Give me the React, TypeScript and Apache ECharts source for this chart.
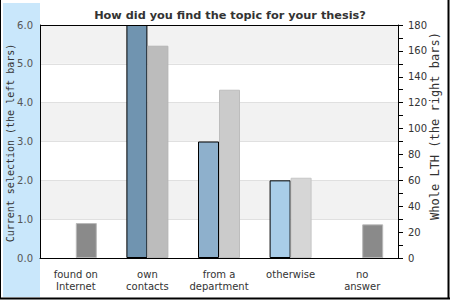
import React, { useEffect, useRef } from "react";
import * as echarts from "echarts";

const categories = ["found on\nInternet", "own\ncontacts", "from a\ndepartment", "otherwise", "no\nanswer"];
const currentSelection: (number | null)[] = [null, 6.0, 3.0, 2.0, null];
const wholeLTH: number[] = [27, 164, 130, 62, 26];
const leftColors = ["#7094b0", "#7094b0", "#8eb0cc", "#a9cde8", "#a9cde8"];
const rightColors = ["#8a8a8a", "#bcbcbc", "#cbcbcb", "#d6d6d6", "#8a8a8a"];
const rightBorders = ["#b8b8b8", "#b4b4b4", "#bdbdbd", "#c6c6c6", "#b8b8b8"];
const title = "How did you find the topic for your thesis?";
const leftName = "Current selection (the left bars)";
const rightName = "Whole LTH (the right bars)";

export default function App() {
  const ref = useRef<HTMLDivElement>(null);
  useEffect(() => {
    document.body.style.margin = "0";
    const chart = echarts.init(ref.current!, null, { renderer: "svg" });
    const font = "DejaVu Sans";
    chart.setOption({
      animation: false,
      backgroundColor: "#ffffff",
      title: {
        text: title,
        left: 225,
        textAlign: "center",
        top: 5,
        textStyle: { fontFamily: font, fontSize: 11.3, fontWeight: "bold", color: "#333" },
      },
      grid: { left: 40, right: 52, top: 25, bottom: 42, containLabel: false },
      xAxis: {
        type: "category",
        data: categories,
        axisLine: { lineStyle: { color: "#000", width: 1 } },
        axisTick: { show: false },
        axisLabel: { fontFamily: font, fontSize: 10, color: "#333", margin: 10, lineHeight: 12, interval: 0 },
      },
      yAxis: [
        {
          type: "value",
          min: 0,
          max: 6,
          interval: 1,
          position: "left",
          axisLine: { show: true, lineStyle: { color: "#000", width: 1 } },
          axisTick: { show: false },
          axisLabel: {
            fontFamily: font,
            fontSize: 10,
            color: "#555",
            margin: 7,
            formatter: (v: number) => v.toFixed(1),
          },
          splitLine: { show: true, lineStyle: { color: "#e0e0e0", width: 1 } },
          splitArea: { show: true, areaStyle: { color: ["#ffffff", "#f2f2f2"] } },
        },
        {
          type: "value",
          min: 0,
          max: 180,
          interval: 20,
          position: "right",
          axisLine: { show: true, lineStyle: { color: "#000", width: 1 } },
          axisTick: { show: true, length: 5, lineStyle: { color: "#000" } },
          minorTick: { show: true, splitNumber: 2, length: 5, lineStyle: { color: "#000" } },
          axisLabel: { fontFamily: font, fontSize: 10, color: "#333", margin: 10 },
          splitLine: { show: false },
        },
      ],
      series: [
        {
          type: "bar",
          yAxisIndex: 0,
          barWidth: 21,
          barGap: "0%",
          data: currentSelection.map((v, i) => ({
            value: v,
            itemStyle: { color: leftColors[i], borderColor: "#000", borderWidth: 1 },
          })),
        },
        {
          type: "bar",
          yAxisIndex: 1,
          barWidth: 21,
          barGap: "0%",
          data: wholeLTH.map((v, i) => ({
            value: v,
            itemStyle: { color: rightColors[i], borderColor: rightBorders[i], borderWidth: 1 },
          })),
        },
      ],
      graphic: [
        { type: "rect", z: -10, silent: true, shape: { x: 3, y: 3, width: 37, height: 294 }, style: { fill: "#c9e7fb" } },
        { type: "line", z: 100, silent: true, shape: { x1: 0.5, y1: 0, x2: 0.5, y2: 299 }, style: { stroke: "#000", lineWidth: 1 } },
        { type: "line", z: 100, silent: true, shape: { x1: 448.5, y1: 0, x2: 448.5, y2: 299 }, style: { stroke: "#000", lineWidth: 2 } },
        { type: "line", z: 100, silent: true, shape: { x1: 0, y1: 298.5, x2: 450, y2: 298.5 }, style: { stroke: "#000", lineWidth: 2 } },
        { type: "line", z: 100, silent: true, shape: { x1: 40, y1: 25.5, x2: 398, y2: 25.5 }, style: { stroke: "#000", lineWidth: 1 } },
        {
          type: "text",
          x: 10,
          y: 143,
          rotation: Math.PI / 2,
          style: { text: leftName, fontFamily: "DejaVu Sans Mono", fontSize: 10, fill: "#333", align: "center", verticalAlign: "middle" },
        },
        {
          type: "text",
          x: 435,
          y: 126,
          rotation: Math.PI / 2,
          style: { text: rightName, fontFamily: "DejaVu Sans Mono", fontSize: 12, fill: "#333", align: "center", verticalAlign: "middle" },
        },
      ],
    });
    return () => chart.dispose();
  }, []);
  return <div ref={ref} style={{ width: 450, height: 300 }} />;
}
